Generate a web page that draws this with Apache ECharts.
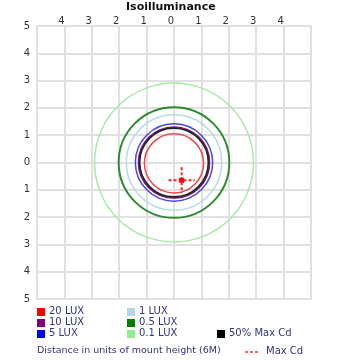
<!DOCTYPE html>
<html>
<head>
<meta charset="utf-8">
<script src="https://cdn.jsdelivr.net/npm/echarts@6/dist/echarts.min.js"></script>
<style>html,body{margin:0;padding:0;background:#fff}#c{width:360px;height:360px}</style>
</head>
<body>
<div id="c"></div>
<script>
// ---- data ----
var levelNames = ['20 LUX', '10 LUX', '5 LUX', '1 LUX', '0.5 LUX', '0.1 LUX', '50% Max Cd'];
var levelColors = ['#ff0000', '#800080', '#0000ff', '#add8e6', '#008000', '#90ee90', '#000000'];
var lineColors = ['#e84c4c', '#6a1a6a', '#4646e6', '#b4dbe8', '#2f8a2f', '#a6eaa6', '#222222'];
var levelRadius = [1.08, 1.29, 1.41, 1.74, 2.02, 2.9, 1.25];
var levelCenterX = [0, 0, 0, 0, 0, 0, 0];
var levelCenterY = [-0.03, 0, 0, 0, 0, 0, 0];
var maxCdPoint = [0.28, -0.65];
var crossHalf = 0.48;
var axisTicks = [-5, -4, -3, -2, -1, 0, 1, 2, 3, 4, 5];

var FONT = 'DejaVu Sans';
var TXT = '#33337f';
var FS = 10;
var chart = echarts.init(document.getElementById('c'));

var series = [];
var order = [5, 4, 3, 2, 1, 6, 0];
order.forEach(function (i) {
  series.push({
    type: 'custom',
    name: levelNames[i],
    clip: true,
    silent: true,
    data: [[levelCenterX[i], levelCenterY[i], levelRadius[i]]],
    renderItem: (function (col, w) {
      return function (params, api) {
        var c = api.coord([api.value(0), api.value(1)]);
        var r = api.size([api.value(2), 0])[0];
        return { type: 'circle', shape: { cx: c[0], cy: c[1], r: r },
          style: { fill: 'none', stroke: col, lineWidth: w } };
      };
    })(lineColors[i], (i === 1 || i === 4) ? 2 : 1.5)
  });
});
series.push({
  type: 'custom',
  name: 'Max Cd',
  silent: true,
  data: [maxCdPoint],
  renderItem: function (params, api) {
    var c = api.coord([api.value(0), api.value(1)]);
    var h = api.size([crossHalf, crossHalf]);
    var st = { stroke: '#ee2a2a', lineWidth: 2, lineDash: [3, 2] };
    return { type: 'group', children: [
      { type: 'line', shape: { x1: c[0] - h[0], y1: c[1], x2: c[0] + h[0], y2: c[1] }, style: st },
      { type: 'line', shape: { x1: c[0], y1: c[1] - h[1], x2: c[0], y2: c[1] + h[1] }, style: st },
      { type: 'rect', shape: { x: c[0] - 2.5, y: c[1] - 2.5, width: 5, height: 5 }, style: { fill: '#ff0000' } }
    ] };
  }
});

// legend via graphic
var legendPos = [
  [37, 308], [37, 319], [37, 330],
  [127, 308], [127, 319], [127, 330],
  [217, 330]
];
var graphics = [];
for (var i = 0; i < levelNames.length; i++) {
  graphics.push({ type: 'rect', left: legendPos[i][0], top: legendPos[i][1],
    shape: { width: 8, height: 8 }, style: { fill: levelColors[i] } });
  graphics.push({ type: 'text', left: legendPos[i][0] + 12, top: legendPos[i][1] - 2,
    style: { text: levelNames[i], fill: TXT, font: FS + 'px "' + FONT + '"' } });
}
graphics.push({ type: 'text', left: 37, top: 346,
  style: { text: 'Distance in units of mount height (6M)', fill: TXT, font: '9.5px "' + FONT + '"' } });
graphics.push({ type: 'line', shape: { x1: 245, y1: 352, x2: 259, y2: 352 },
  style: { stroke: '#ff3030', lineWidth: 1.5, lineDash: [3, 2] } });
graphics.push({ type: 'text', left: 266, top: 346,
  style: { text: 'Max Cd', fill: TXT, font: FS + 'px "' + FONT + '"' } });

chart.setOption({
  animation: false,
  title: { text: 'Isoilluminance', left: 126, top: 2, padding: 0,
    textStyle: { fontFamily: FONT, fontSize: 11, fontWeight: 'bold', color: '#111' } },
  grid: { left: 37, right: 49, top: 26, bottom: 61, show: true, borderColor: '#e0e0e0', borderWidth: 2 },
  xAxis: {
    type: 'value', position: 'top', min: axisTicks[0], max: axisTicks[axisTicks.length - 1], interval: 1,
    axisLine: { show: false }, axisTick: { show: false },
    splitLine: { show: true, lineStyle: { color: '#e0e0e0', width: 2 } },
    axisLabel: { showMinLabel: false, showMaxLabel: false, margin: 0, padding: [0, 6, 0, 0],
      fontFamily: FONT, fontSize: FS, color: '#333',
      formatter: function (v) { return String(Math.abs(v)); } }
  },
  yAxis: {
    type: 'value', min: axisTicks[0], max: axisTicks[axisTicks.length - 1], interval: 1,
    axisLine: { show: false }, axisTick: { show: false },
    splitLine: { show: true, lineStyle: { color: '#e0e0e0', width: 2 } },
    axisLabel: { margin: 7, fontFamily: FONT, fontSize: FS, color: '#333',
      formatter: function (v) { return String(Math.abs(v)); } }
  },
  graphic: graphics,
  series: series
});
</script>
</body>
</html>
